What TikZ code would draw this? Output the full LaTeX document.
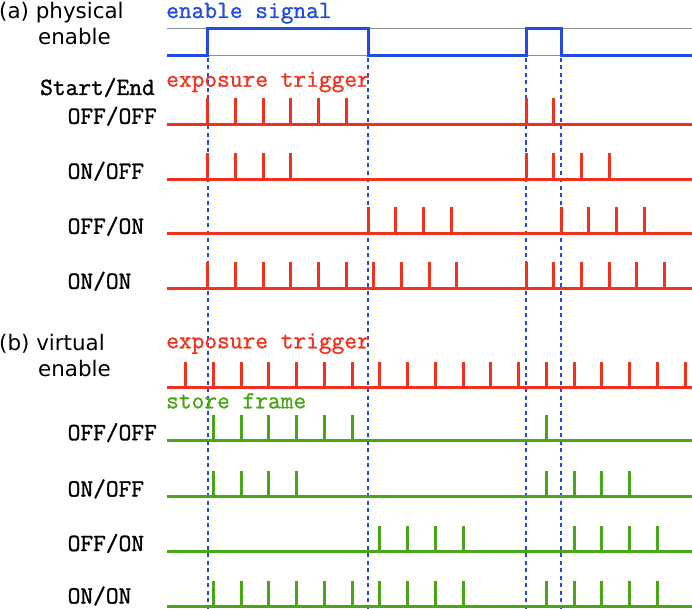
\documentclass[tikz,border=0pt]{standalone}
\usepackage{fontspec}
\setmainfont{DejaVu Sans}
\newfontfamily\sigfont{Latin Modern Mono}[BoldFont={Latin Modern Mono}, BoldFeatures={FakeBold=1.2}]
\usetikzlibrary{positioning}
\definecolor{sigBlue}{RGB}{35,75,225}
\definecolor{trigRed}{RGB}{240,50,30}
\definecolor{storeGreen}{RGB}{75,165,25}
\definecolor{refGray}{RGB}{135,145,145}
\tikzset{
  titleT/.style={font=\fontsize{21.5}{26}\selectfont, anchor=base west, inner sep=0pt},
  sigT/.style={font=\sigfont\bfseries\fontsize{24.8}{26}\selectfont, anchor=base west,
    inner sep=0pt, text depth=0pt},
  rowT/.style={sigT},
  wave/.style={line width=3bp},
  edge/.style={draw=sigBlue, line width=2bp, dash pattern=on 4bp off 3.5bp},
  refline/.style={draw=refGray, line width=1bp},
}
% baseline with pulses: colour, baseline y, list of start/last index
\newcommand{\pulserow}[3]{%
  \draw[wave,#1] (167,#2) -- (692,#2);
  \foreach \st/\nn in {#3}
    \foreach \k in {0,...,\nn}
      \draw[wave,#1] ({floor(\st+27.7*\k)+0.5},#2) -- ++(0,-26.5);
}
% baseline with pulses on the virtual trigger grid: colour, y, indices
\newcommand{\gridrow}[3]{%
  \draw[wave,#1] (167,#2) -- (692,#2);
  \foreach \k in {#3}
    \draw[wave,#1] ({floor(185.7+27.74*\k)+0.5},#2) -- ++(0,-26);
}

\begin{document}
\begin{tikzpicture}[x=1bp,y=-1bp]
\useasboundingbox (0,0) rectangle (692,609);

% (a) physical enable
\draw[refline] (167,28.5) -- (692,28.5);
\draw[refline] (167,55.5) -- (692,55.5);

% edges of the enable signal
\foreach \ex in {208,368,526,561}
  \draw[edge] (\ex,58) -- (\ex,609);

\node[titleT] (titleA) at (-1,18.3) {(a) physical};
\node[titleT] (titleA2) at (38,45) {enable};
\node[sigT, text=sigBlue] (enLbl) at (166,18) {enable signal};
\draw[wave, sigBlue] (167,55.5) -- (207.5,55.5) -- (207.5,28.5) -- (368,28.5) -- (368,55.5)
  -- (526,55.5) -- (526,28.5) -- (561,28.5) -- (561,55.5) -- (692,55.5);

\node[rowT] (seLbl) at (40,95) {Start/End};
\node[sigT, text=trigRed] (trigA) at (166,86.7) {exposure trigger};

\node[rowT] (a1) at (67.5,123.8) {OFF/OFF};
\pulserow{trigRed}{124.5}{207.7/5, 526/1}
\node[rowT] (a2) at (67.5,178.8) {ON/OFF};
\pulserow{trigRed}{179.5}{207.7/3, 526/3}
\node[rowT] (a3) at (67.5,233.8) {OFF/ON};
\pulserow{trigRed}{233.5}{368/3, 561/3}
\node[rowT] (a4) at (67.5,288.8) {ON/ON};
\pulserow{trigRed}{288.5}{207.7/9, 526/5}

% (b) virtual enable
\node[titleT] (titleB) at (-1,350) {(b) virtual};
\node[titleT] (titleB2) at (38,376.7) {enable};
\node[sigT, text=trigRed] (trigB) at (166,348.3) {exposure trigger};
\gridrow{trigRed}{387.5}{0,...,18}

\node[sigT, text=storeGreen] (storeLbl) at (166,408.3) {store frame};
\node[rowT] (b1) at (67.5,440.2) {OFF/OFF};
\gridrow{storeGreen}{440.5}{1,...,6,13}
\node[rowT] (b2) at (67.5,496.5) {ON/OFF};
\gridrow{storeGreen}{496.5}{1,...,4,13,14,15,16}
\node[rowT] (b3) at (67.5,551) {OFF/ON};
\gridrow{storeGreen}{551.5}{7,8,9,10,14,15,16,17}
\node[rowT] (b4) at (67.5,603.5) {ON/ON};
\gridrow{storeGreen}{606.5}{1,...,10,13,14,15,16,17}
\end{tikzpicture}
\end{document}
